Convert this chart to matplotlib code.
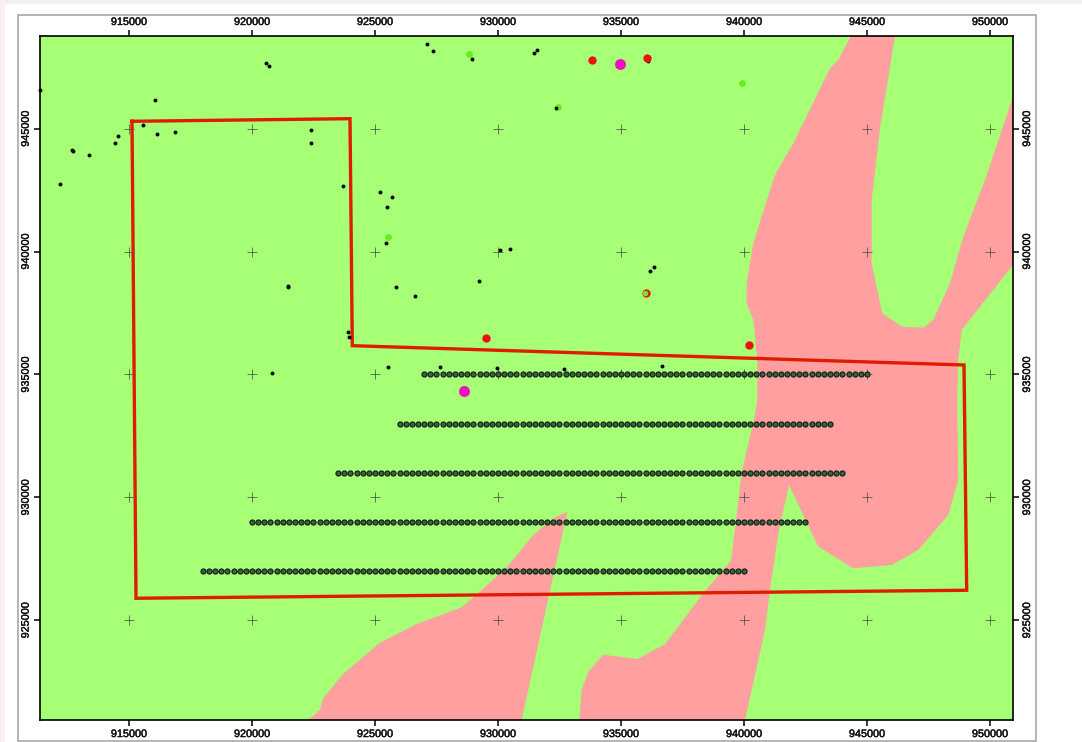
import matplotlib
matplotlib.use("Agg")
import matplotlib.pyplot as plt
import matplotlib.patheffects as pe
from matplotlib.patches import Rectangle

plt.rcParams['font.family'] = ['Liberation Sans', 'DejaVu Sans']

x_ticks = [915000, 920000, 925000, 930000, 935000, 940000, 945000, 950000]
y_ticks = [925000, 930000, 935000, 940000, 945000]

# survey block outline
block_x = [915122, 923984, 924077, 948943, 949053, 915285, 915122]
block_y = [945301, 945407, 936172, 935387, 926222, 925897, 945301]

# pink zones
zone1_x = [922289, 922764, 922898, 923711, 925203, 926695, 928524, 929337, 930353, 931435, 932248, 932817, 930963]
zone1_y = [920944, 921353, 921829, 922817, 924090, 924851, 925530, 926234, 927158, 928472, 929151, 929420, 920944]

zone2_x = [933305, 933402, 933671, 934280, 935662, 936788, 938345, 939471, 939662, 939906, 940378, 940540,
           940540, 940378, 940110, 940110, 940378, 941191, 941329, 942004, 943496, 943833, 944337, 946138,
           945528, 945191, 945191, 945622, 946410, 947288, 947695, 948374, 948914, 949796, 950935, 950935,
           948849, 948711, 948670, 948711, 948305, 947085, 946004, 944443, 943020, 941829, 941394, 941057,
           940853, 940040]
zone2_y = [920944, 922166, 922911, 923602, 923427, 924025, 926100, 927426, 928948, 931035, 933028, 933964,
           935591, 937218, 937897, 938723, 940338, 942913, 943251, 944406, 947457, 947795, 948771, 948771,
           945016, 942100, 939524, 937490, 936945, 936905, 937218, 938711, 940607, 942913, 946302, 939455,
           936811, 935591, 933964, 930709, 929285, 927862, 927251, 927117, 927996, 930506, 928541, 926234,
           924607, 920944]

# sample lines
line_y = [935000, 933000, 931000, 929000, 927000]
line1_x = [927000, 927250, 927500, 927750, 928000, 928250, 928500, 928750, 929000, 929250, 929500, 929750,
           930000, 930250, 930500, 930750, 931000, 931250, 931500, 931750, 932000, 932250, 932500, 932750,
           933000, 933250, 933500, 933750, 934000, 934250, 934500, 934750, 935000, 935250, 935500, 935750,
           936000, 936250, 936500, 936750, 937000, 937250, 937500, 937750, 938000, 938250, 938500, 938750,
           939000, 939250, 939500, 939750, 940000, 940250, 940500, 940750, 941000, 941250, 941500, 941750,
           942000, 942250, 942500, 942750, 943000, 943250, 943500, 943750, 944000, 944250, 944500, 944750,
           945000]
line2_x = [926000, 926250, 926500, 926750, 927000, 927250, 927500, 927750, 928000, 928250, 928500, 928750,
           929000, 929250, 929500, 929750, 930000, 930250, 930500, 930750, 931000, 931250, 931500, 931750,
           932000, 932250, 932500, 932750, 933000, 933250, 933500, 933750, 934000, 934250, 934500, 934750,
           935000, 935250, 935500, 935750, 936000, 936250, 936500, 936750, 937000, 937250, 937500, 937750,
           938000, 938250, 938500, 938750, 939000, 939250, 939500, 939750, 940000, 940250, 940500, 940750,
           941000, 941250, 941500, 941750, 942000, 942250, 942500, 942750, 943000, 943250, 943500]
line3_x = [923500, 923750, 924000, 924250, 924500, 924750, 925000, 925250, 925500, 925750, 926000, 926250,
           926500, 926750, 927000, 927250, 927500, 927750, 928000, 928250, 928500, 928750, 929000, 929250,
           929500, 929750, 930000, 930250, 930500, 930750, 931000, 931250, 931500, 931750, 932000, 932250,
           932500, 932750, 933000, 933250, 933500, 933750, 934000, 934250, 934500, 934750, 935000, 935250,
           935500, 935750, 936000, 936250, 936500, 936750, 937000, 937250, 937500, 937750, 938000, 938250,
           938500, 938750, 939000, 939250, 939500, 939750, 940000, 940250, 940500, 940750, 941000, 941250,
           941500, 941750, 942000, 942250, 942500, 942750, 943000, 943250, 943500, 943750, 944000]
line4_x = [920000, 920250, 920500, 920750, 921000, 921250, 921500, 921750, 922000, 922250, 922500, 922750,
           923000, 923250, 923500, 923750, 924000, 924250, 924500, 924750, 925000, 925250, 925500, 925750,
           926000, 926250, 926500, 926750, 927000, 927250, 927500, 927750, 928000, 928250, 928500, 928750,
           929000, 929250, 929500, 929750, 930000, 930250, 930500, 930750, 931000, 931250, 931500, 931750,
           932000, 932250, 932500, 932750, 933000, 933250, 933500, 933750, 934000, 934250, 934500, 934750,
           935000, 935250, 935500, 935750, 936000, 936250, 936500, 936750, 937000, 937250, 937500, 937750,
           938000, 938250, 938500, 938750, 939000, 939250, 939500, 939750, 940000, 940250, 940500, 940750,
           941000, 941250, 941500, 941750, 942000, 942250, 942500]
line5_x = [918000, 918250, 918500, 918750, 919000, 919250, 919500, 919750, 920000, 920250, 920500, 920750,
           921000, 921250, 921500, 921750, 922000, 922250, 922500, 922750, 923000, 923250, 923500, 923750,
           924000, 924250, 924500, 924750, 925000, 925250, 925500, 925750, 926000, 926250, 926500, 926750,
           927000, 927250, 927500, 927750, 928000, 928250, 928500, 928750, 929000, 929250, 929500, 929750,
           930000, 930250, 930500, 930750, 931000, 931250, 931500, 931750, 932000, 932250, 932500, 932750,
           933000, 933250, 933500, 933750, 934000, 934250, 934500, 934750, 935000, 935250, 935500, 935750,
           936000, 936250, 936500, 936750, 937000, 937250, 937500, 937750, 938000, 938250, 938500, 938750,
           939000, 939250, 939500, 939750, 940000]
lines_x = [line1_x, line2_x, line3_x, line4_x, line5_x]

# scattered points
black_x = [911382, 920569, 920703, 916057, 915557, 916138, 916882, 914541, 914443, 912724, 912700, 913374,
           912195, 922398, 922398, 923699, 925216, 925679, 925500, 925447, 927126, 927358, 928955, 931463,
           931585, 932345, 936097, 930069, 930475, 936166, 936329, 921463, 921480, 925866, 926614, 929215,
           923890, 923943, 920813, 925528, 927654, 929947, 932683, 936654]
black_y = [946587, 947673, 947538, 946180, 945138, 944772, 944854, 944691, 944406, 944105, 944130, 943918,
           942763, 944959, 944430, 942657, 942437, 942234, 941827, 940350, 948458, 948161, 947835, 948092,
           948214, 945854, 947754, 940078, 940118, 939223, 939362, 938573, 938620, 938573, 938182, 938817,
           936718, 936514, 935074, 935294, 935294, 935277, 935237, 935334]
green_x = [925516, 928809, 932427, 939918]
green_y = [940607, 948051, 945895, 946859]
red_x = [933833, 936057, 929500, 940215, 936016]
red_y = [947783, 947888, 936498, 936213, 938316]
mixed_x = [935975]
mixed_y = [938316]
magenta_x = [934959, 928618]
magenta_y = [947644, 934330]

fig = plt.figure(figsize=(10.82, 7.42), dpi=100)
ax = fig.add_axes([39.7 / 1082, 1 - 720 / 742, (1013 - 39.7) / 1082, (720 - 36) / 742])
ax.set_facecolor('#a6ff75')

fig.add_artist(Rectangle((0, 1 - 4 / 742), 1, 4 / 742, transform=fig.transFigure, fc='#f7eeee', ec='none'))
fig.add_artist(Rectangle((0, 0), 5 / 1082, 1, transform=fig.transFigure, fc='#f9f1f1', ec='none'))
fig.add_artist(Rectangle((18 / 1082, 1 / 742), 1018 / 1082, 726 / 742, transform=fig.transFigure,
                         fc='none', ec='#a8a8a8', lw=1.2))

ax.fill(zone1_x, zone1_y, color='#ff9f9f', lw=0, zorder=1)
ax.fill(zone2_x, zone2_y, color='#ff9f9f', lw=0, zorder=1)

for xt in x_ticks:
    for yt in y_ticks:
        ax.plot(xt, yt, '+', ms=6.5, mew=0.5, color='#3c4a3c', zorder=2)

ax.plot(block_x, block_y, color='#e01c00', lw=2.4, solid_joinstyle='miter', zorder=3)

for xs, yv in zip(lines_x, line_y):
    ax.plot(xs, [yv] * len(xs), 'o', ms=3.6, mfc='#36683a', mec='#16221a', mew=0.9, zorder=4)

ax.scatter(green_x, green_y, s=24, color='#66ee1e', lw=0, zorder=4)
ax.scatter(black_x, black_y, s=8, color='black', lw=0, zorder=5, clip_on=False)
ax.scatter(red_x, red_y, s=36, color='#f01010', lw=0, zorder=6)
ax.scatter(mixed_x, mixed_y, s=16, color='#66ee1e', lw=0, zorder=7)
ax.scatter(magenta_x, magenta_y, s=62, color='#f00fc0', lw=0, zorder=6)

ax.set_xlim(911370, 950935)
ax.set_ylim(920944, 948771)

ax.set_xticks(x_ticks)
ax.set_yticks(y_ticks)
ax.tick_params(top=True, bottom=True, left=True, right=True,
               labeltop=True, labelbottom=True, labelleft=True, labelright=True,
               length=4.5, width=1.1, labelsize=7.8, pad=2, labelcolor='#111111')
ax.ticklabel_format(useOffset=False, style='plain')
for t in ax.get_yticklabels():
    t.set_rotation(90)
    t.set_va('center')
# tick labels look a bit heavy in the scan
for t in ax.get_xticklabels(which='both') + ax.get_yticklabels(which='both'):
    t.set_path_effects([pe.withStroke(linewidth=0.3, foreground='#111111')])
for s in ax.spines.values():
    s.set_linewidth(1.2)

fig.savefig("out.png", dpi=100)
